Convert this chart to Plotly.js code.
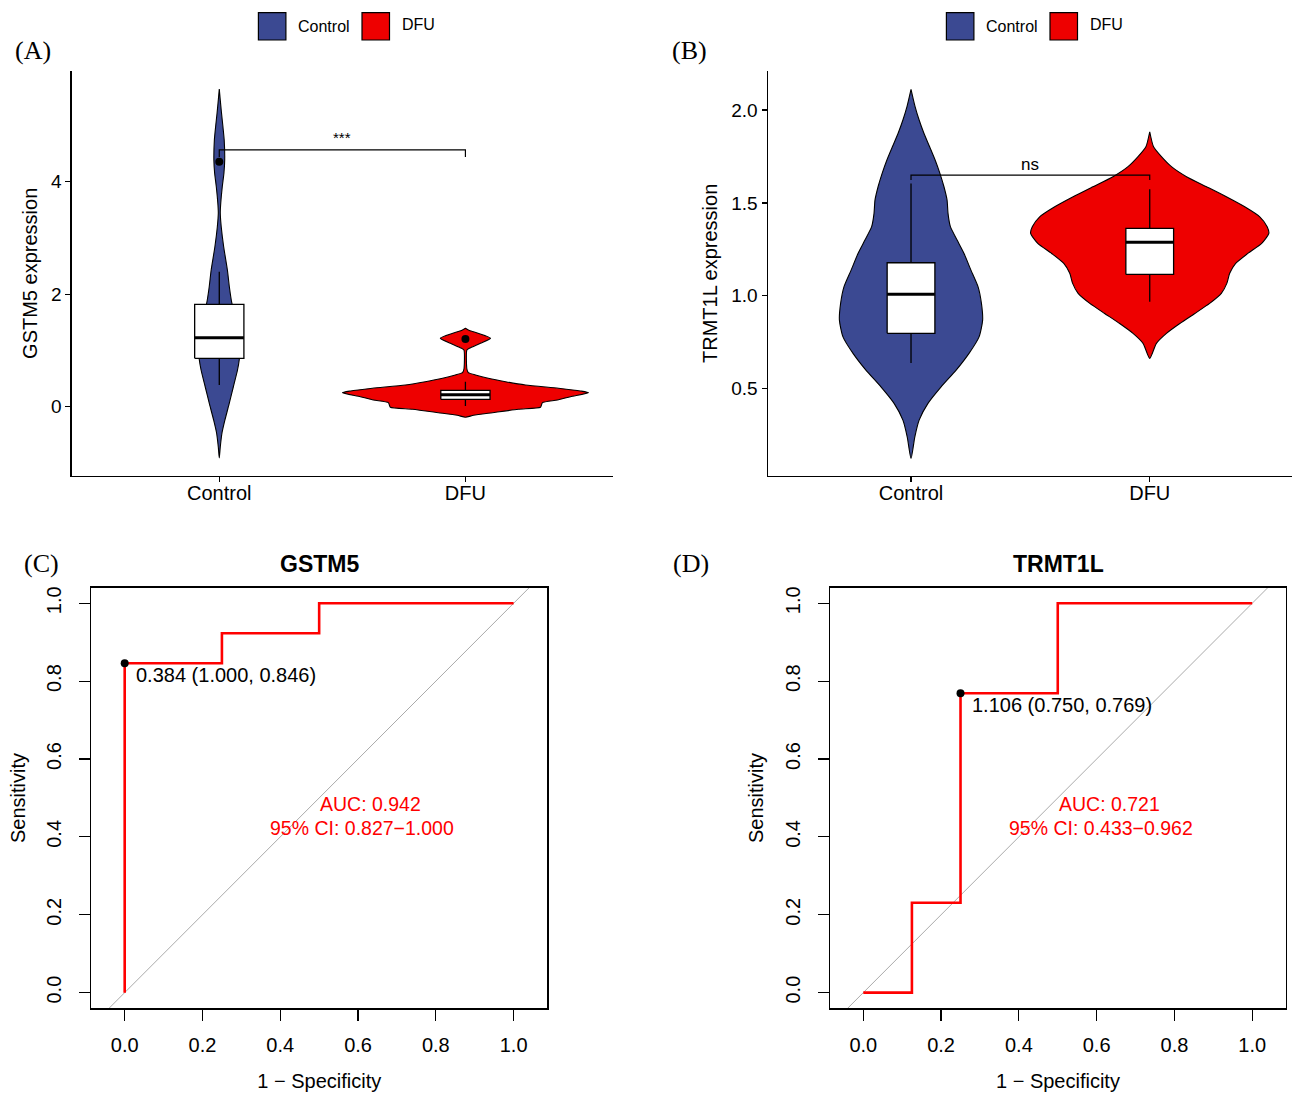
<!DOCTYPE html>
<html>
<head>
<meta charset="utf-8">
<script src="https://cdn.plot.ly/plotly-3.0.1.min.js"></script>
<style>html,body{margin:0;padding:0;background:#fff}#chart{width:1292px;height:1094px}</style>
</head>
<body>
<div id="chart"></div>
<script>
// ---------------- data ----------------
const groups = ['Control', 'DFU'];
const groupColors = ['#3B4992', '#EE0000'];

// (A) GSTM5 violin outlines (y value, half width in x units)
const gstm5CtrlY = [-0.912,-0.716,-0.468,-0.236,0.066,0.350,0.652,0.830,1.097,1.364,1.630,1.844,2.128,2.430,2.839,3.195,3.444,3.621,3.906,4.155,4.386,4.741,4.972,5.221,5.452,5.648];
const gstm5CtrlW = [0,0.004,0.011,0.023,0.041,0.057,0.074,0.081,0.085,0.077,0.065,0.051,0.041,0.033,0.018,0.008,0.004,0.006,0.012,0.019,0.022,0.020,0.015,0.009,0.004,0];
const gstm5DfuY = [-0.188,-0.153,-0.107,-0.046,-0.011,0.030,0.071,0.119,0.178,0.249,0.279,0.327,0.386,0.444,0.505,0.564,0.604,0.670,1.008,1.038,1.127,1.216,1.305,1.355,1.394];
const gstm5DfuW = [0,0.033,0.110,0.215,0.305,0.309,0.313,0.374,0.427,0.500,0.467,0.378,0.244,0.163,0.093,0.041,0.012,0.006,0.006,0.016,0.061,0.102,0.051,0.016,0];
// (A) box statistics [Control, DFU]
const gstm5Q1 = [0.860, 0.130];
const gstm5Median = [1.227, 0.210];
const gstm5Q3 = [1.820, 0.290];
const gstm5Lower = [0.386, 0.012];
const gstm5Upper = [2.400, 0.444];
const gstm5Outliers = [4.356, 1.204];
const gstm5Bracket = [4.564, 0.125];
const gstm5Signif = '***';

// (B) TRMT1L violin outlines
const trmt1lCtrlY = [0.124,0.241,0.331,0.421,0.510,0.600,0.690,0.779,0.869,0.959,1.048,1.138,1.228,1.300,1.372,1.444,1.515,1.587,1.659,1.731,1.802,1.875,1.946,2.018,2.111];
const trmt1lCtrlW = [0,0.016,0.034,0.071,0.126,0.189,0.243,0.285,0.300,0.295,0.281,0.251,0.222,0.193,0.165,0.155,0.151,0.138,0.121,0.101,0.078,0.054,0.034,0.017,0];
const trmt1lDfuY = [0.663,0.744,0.798,0.851,0.905,0.959,1.013,1.067,1.121,1.174,1.228,1.282,1.336,1.372,1.425,1.479,1.533,1.587,1.641,1.695,1.749,1.802,1.883];
const trmt1lDfuW = [0,0.028,0.070,0.126,0.189,0.251,0.300,0.323,0.335,0.360,0.411,0.469,0.499,0.492,0.461,0.398,0.321,0.238,0.154,0.091,0.049,0.016,0];
const trmt1lQ1 = [0.798, 1.115];
const trmt1lMedian = [1.008, 1.288];
const trmt1lQ3 = [1.178, 1.363];
const trmt1lLower = [0.639, 0.968];
const trmt1lUpper = [1.605, 1.573];
const trmt1lBracket = [1.650, 0.027];
const trmt1lSignif = 'ns';

// (C) ROC GSTM5
const rocGstm5Fpr = [0, 0, 0.25, 0.25, 0.5, 0.5, 1];
const rocGstm5Tpr = [0, 0.846, 0.846, 0.923, 0.923, 1, 1];
const rocGstm5Best = [0.384, 0, 0.846]; // threshold, 1-specificity, sensitivity
const rocGstm5Auc = [0.942, 0.827, 1.000];

// (D) ROC TRMT1L
const rocTrmt1lFpr = [0, 0.125, 0.125, 0.25, 0.25, 0.5, 0.5, 1];
const rocTrmt1lTpr = [0, 0, 0.231, 0.231, 0.769, 0.769, 1, 1];
const rocTrmt1lBest = [1.106, 0.25, 0.769];
const rocTrmt1lAuc = [0.721, 0.433, 0.962];

const rocTicks = [0, 0.2, 0.4, 0.6, 0.8, 1.0];

// ---------------- helpers ----------------
const W = 1292, H = 1094;
const FONT = 'Liberation Sans, Arial, Helvetica, sans-serif';
const SERIF = 'Liberation Serif, Times New Roman, serif';
const px = v => v / W;
const py = v => 1 - v / H;
const BOXW = 0.1;

function violin(center, ys, ws, color, xa, ya) {
  const x = [], y = [];
  for (let i = 0; i < ys.length; i++) { x.push(center + ws[i]); y.push(ys[i]); }
  for (let i = ys.length - 1; i >= 0; i--) { x.push(center - ws[i]); y.push(ys[i]); }
  return {type:'scatter', mode:'lines', x, y, xaxis:xa, yaxis:ya, fill:'toself', fillcolor:color,
    line:{color:'#000', width:1.1, shape:'spline', smoothing:0.6}, hoverinfo:'skip'};
}
function boxTraces(q1, med, q3, lo, hi, xa, ya) {
  const out = [];
  // whiskers
  const wx = [], wy = [];
  q1.forEach((v, i) => { const c = i + 1; wx.push(c, c, null, c, c, null); wy.push(lo[i], q1[i], null, q3[i], hi[i], null); });
  out.push({type:'scatter', mode:'lines', x:wx, y:wy, xaxis:xa, yaxis:ya, line:{color:'#000', width:1.3}, hoverinfo:'skip'});
  // boxes
  q1.forEach((v, i) => {
    const c = i + 1;
    out.push({type:'scatter', mode:'lines', x:[c - BOXW, c + BOXW, c + BOXW, c - BOXW, c - BOXW],
      y:[q1[i], q1[i], q3[i], q3[i], q1[i]], xaxis:xa, yaxis:ya, fill:'toself', fillcolor:'#ffffff',
      line:{color:'#000', width:1.3}, hoverinfo:'skip'});
  });
  // medians
  const mx = [], my = [];
  med.forEach((m, i) => { mx.push(i + 1 - BOXW, i + 1 + BOXW, null); my.push(m, m, null); });
  out.push({type:'scatter', mode:'lines', x:mx, y:my, xaxis:xa, yaxis:ya, line:{color:'#000', width:3}, hoverinfo:'skip'});
  return out;
}
function bracket(b, xa, ya) {
  return {type:'scatter', mode:'lines', x:[1, 1, 2, 2], y:[b[0] - b[1], b[0], b[0], b[0] - b[1]],
    xaxis:xa, yaxis:ya, line:{color:'#000', width:1.2}, hoverinfo:'skip'};
}
function rocTraces(fpr, tpr, best, xa, ya) {
  return [
    {type:'scatter', mode:'lines', x:[-0.04, 1.04], y:[-0.04, 1.04], xaxis:xa, yaxis:ya,
      line:{color:'#aaaaaa', width:1}, hoverinfo:'skip'},
    {type:'scatter', mode:'lines', x:fpr, y:tpr, xaxis:xa, yaxis:ya,
      line:{color:'#FF0000', width:2.6}, hoverinfo:'skip'},
    {type:'scatter', mode:'markers', x:[best[1]], y:[best[2]], xaxis:xa, yaxis:ya,
      marker:{color:'#000', size:8}, hoverinfo:'skip'}
  ];
}

const traces = [
  violin(1, gstm5CtrlY, gstm5CtrlW, groupColors[0], 'x', 'y'),
  violin(2, gstm5DfuY, gstm5DfuW, groupColors[1], 'x', 'y'),
  ...boxTraces(gstm5Q1, gstm5Median, gstm5Q3, gstm5Lower, gstm5Upper, 'x', 'y'),
  {type:'scatter', mode:'markers', x:[1, 2], y:gstm5Outliers, xaxis:'x', yaxis:'y',
    marker:{color:'#000', size:8}, hoverinfo:'skip'},
  bracket(gstm5Bracket, 'x', 'y'),

  violin(1, trmt1lCtrlY, trmt1lCtrlW, groupColors[0], 'x2', 'y2'),
  violin(2, trmt1lDfuY, trmt1lDfuW, groupColors[1], 'x2', 'y2'),
  ...boxTraces(trmt1lQ1, trmt1lMedian, trmt1lQ3, trmt1lLower, trmt1lUpper, 'x2', 'y2'),
  bracket(trmt1lBracket, 'x2', 'y2'),

  ...rocTraces(rocGstm5Fpr, rocGstm5Tpr, rocGstm5Best, 'x3', 'y3'),
  ...rocTraces(rocTrmt1lFpr, rocTrmt1lTpr, rocTrmt1lBest, 'x4', 'y4')
];

// ---------------- axes ----------------
const catX = (dom, range, anchor) => ({
  domain: dom, range, anchor, type:'linear', tickvals:[1, 2], ticktext:groups,
  ticks:'outside', ticklen:5, tickwidth:1.2, tickcolor:'#000', ticklabelstandoff:-6,
  showline:true, linewidth:1.3, linecolor:'#000', showgrid:false, zeroline:false,
  tickfont:{size:20, color:'#000', family:FONT}
});
const valY = (dom, range, anchor, tickvals, fmt, title) => ({
  domain: dom, range, anchor, tickvals, tickformat:fmt,
  ticks:'outside', ticklen:5, tickwidth:1.2, tickcolor:'#000',
  showline:true, linewidth:1.3, linecolor:'#000', showgrid:false, zeroline:false,
  tickfont:{size:19, color:'#000', family:FONT},
  title:{text:title, font:{size:20, color:'#000', family:FONT}, standoff:8}
});
const rocX = (dom, anchor) => ({
  domain: dom, range:[-0.0856, 1.0866], anchor, tickvals:rocTicks, tickformat:'.1f',
  ticks:'outside', ticklen:11, tickwidth:1.2, tickcolor:'#000', ticklabelstandoff:7,
  showline:true, mirror:true, linewidth:1.3, linecolor:'#000', showgrid:false, zeroline:false,
  tickfont:{size:20, color:'#000', family:FONT},
  title:{text:'1 \u2212 Specificity', font:{size:20, color:'#000', family:FONT}, standoff:19}
});
const rocY = (dom, anchor) => ({
  domain: dom, range:[-0.04, 1.04], anchor, tickvals:rocTicks, tickformat:'.1f', tickangle:-90,
  ticks:'outside', ticklen:11, tickwidth:1.2, tickcolor:'#000', ticklabelstandoff:10,
  showline:true, mirror:true, linewidth:1.3, linecolor:'#000', showgrid:false, zeroline:false,
  tickfont:{size:20, color:'#000', family:FONT},
  title:{text:'Sensitivity', font:{size:20, color:'#000', family:FONT}, standoff:12}
});

const topDom = [py(475.7), py(71)];
const botDom = [py(1008.2), py(587.7)];

// ---------------- annotations ----------------
const ann = [];
const panelLabel = (t, x, y) => ann.push({text:t, xref:'paper', yref:'paper', x:px(x), y:py(y),
  xanchor:'center', yanchor:'middle', showarrow:false, font:{family:SERIF, size:26, color:'#000'}});
panelLabel('(A)', 33, 50);
panelLabel('(B)', 689, 50);
panelLabel('(C)', 41, 563);
panelLabel('(D)', 691, 563);

ann.push({text:gstm5Signif, xref:'x', yref:'y', x:1.5, y:gstm5Bracket[0], yanchor:'bottom', yshift:2,
  showarrow:false, font:{family:FONT, size:15, color:'#000'}});
ann.push({text:trmt1lSignif, xref:'x2', yref:'y2', x:1.5, y:trmt1lBracket[0], yanchor:'bottom', yshift:-1,
  showarrow:false, font:{family:FONT, size:17, color:'#000'}});

// legends (drawn as keys + text)
const shapes = [];
function legend(x0Ctrl, txtCtrl, x0Dfu, txtDfu) {
  [[x0Ctrl, txtCtrl, 0], [x0Dfu, txtDfu, 1]].forEach(([x0, tx, i]) => {
    shapes.push({type:'rect', xref:'paper', yref:'paper', x0:px(x0), x1:px(x0 + 27.5), y0:py(40), y1:py(12.7),
      fillcolor:groupColors[i], line:{color:'#000', width:1.2}});
    ann.push({text:groups[i], xref:'paper', yref:'paper', x:px(tx), y:py(i === 0 ? 26 : 24.5), xanchor:'left', yanchor:'middle',
      showarrow:false, font:{family:FONT, size:16, color:'#000'}});
  });
}
legend(258.4, 296, 362, 399.5);
legend(946.4, 983.5, 1050, 1087.5);

// ROC titles and labels
function rocText(title, cx, best, auc, xa, ya) {
  ann.push({text:'<b>' + title + '</b>', xref:'paper', yref:'paper', x:px(cx), y:py(563.6),
    xanchor:'center', yanchor:'middle', showarrow:false, font:{family:FONT, size:23, color:'#000'}});
  ann.push({text:best[0].toFixed(3) + ' (' + (1 - best[1]).toFixed(3) + ', ' + best[2].toFixed(3) + ')',
    xref:xa, yref:ya, x:best[1], y:best[2], xanchor:'left', yanchor:'middle', xshift:9, yshift:-12,
    showarrow:false, font:{family:FONT, size:20, color:'#000'}});
  ann.push({text:'AUC: ' + auc[0].toFixed(3), xref:xa, yref:ya, x:0.633, y:0.478,
    xanchor:'center', yanchor:'middle', yshift:2.5, showarrow:false, font:{family:FONT, size:19.5, color:'#FF0000'}});
  ann.push({text:'95% CI: ' + auc[1].toFixed(3) + '\u2212' + auc[2].toFixed(3), xref:xa, yref:ya, x:0.610, y:0.428,
    xanchor:'center', yanchor:'middle', yshift:-2, showarrow:false, font:{family:FONT, size:19.5, color:'#FF0000'}});
}
rocText('GSTM5', 319.4, rocGstm5Best, rocGstm5Auc, 'x3', 'y3');
rocText('TRMT1L', 1058, rocTrmt1lBest, rocTrmt1lAuc, 'x4', 'y4');

const layout = {
  width:W, height:H, margin:{l:0, r:0, t:0, b:0, pad:0},
  paper_bgcolor:'#fff', plot_bgcolor:'rgba(0,0,0,0)',
  showlegend:false, hovermode:false,
  font:{family:FONT, color:'#000'},
  xaxis: catX([px(71.6), px(613.1)], [0.4, 2.6], 'y'),
  yaxis: valY(topDom, [-1.227, 5.968], 'x', [0, 2, 4], 'd', 'GSTM5 expression'),
  xaxis2: catX([px(767.8), 1], [0.4, 2.596], 'y2'),
  yaxis2: valY(topDom, [0.0318, 2.2099], 'x2', [0.5, 1.0, 1.5, 2.0], '.1f', 'TRMT1L expression'),
  xaxis3: rocX([px(91.4), px(547.3)], 'y3'),
  yaxis3: rocY(botDom, 'x3'),
  xaxis4: rocX([px(830), px(1285.9)], 'y4'),
  yaxis4: rocY(botDom, 'x4'),
  annotations: ann,
  shapes: shapes
};

Plotly.newPlot('chart', traces, layout, {displayModeBar:false, staticPlot:true});
</script>
</body>
</html>
